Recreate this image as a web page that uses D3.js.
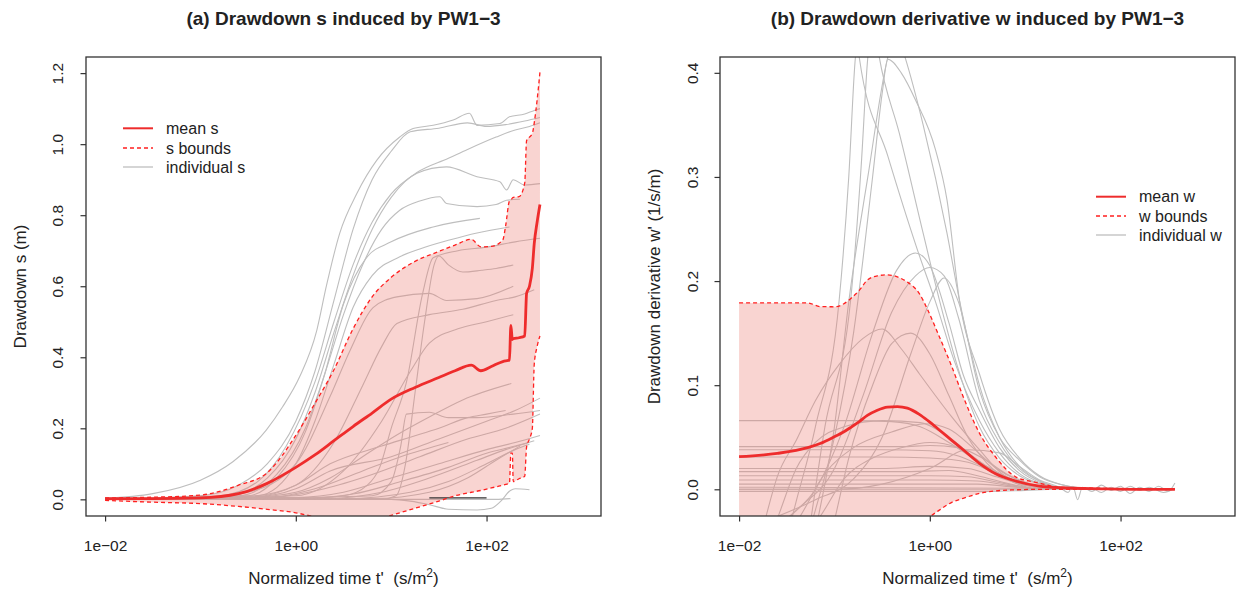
<!DOCTYPE html>
<html><head><meta charset="utf-8">
<script src="https://cdn.jsdelivr.net/npm/d3@7"></script>
<style>
html,body{margin:0;padding:0;background:#fff;}
svg{display:block;font-family:"Liberation Sans",Arial,Helvetica,sans-serif;}
</style></head><body>
<svg id="chart" width="1245" height="595"></svg>
<script>
// ---------------- DATA ----------------
// x values are log10 of normalized time t' (s/m^2)
const xTickValues = [0.01, 1, 100];
const xTickLabels = ["1e\u221202", "1e+00", "1e+02"];
const yTicksS = [0, 0.2, 0.4, 0.6, 0.8, 1.0, 1.2];
const yTicksW = [0, 0.1, 0.2, 0.3, 0.4];

// Panel (a): mean / bounds on a common grid
const gridS = [-2,-1.5,-1,-0.6,-0.3,0,0.2,0.4,0.6,0.8,1.0,1.25,1.5,1.67,1.84,1.94,2.05,2.17,2.2,2.24,2.255,2.27,2.28,2.34,2.4,2.42,2.45,2.48,2.5,2.53,2.56];
const meanS  = [0.002,0.002,0.004,0.016,0.045,0.09,0.125,0.165,0.205,0.243,0.282,0.315,0.343,0.362,0.378,0.362,0.374,0.388,0.39,0.392,0.49,0.45,0.452,0.455,0.46,0.58,0.6,0.65,0.72,0.78,0.83];
const upperS = [0.004,0.006,0.012,0.04,0.075,0.18,0.27,0.365,0.48,0.57,0.625,0.67,0.698,0.716,0.732,0.711,0.712,0.73,0.77,0.84,0.843,0.848,0.85,0.852,0.89,1.01,1.02,1.03,1.06,1.124,1.203];
const lowerS = [-0.003,-0.008,-0.012,-0.02,-0.028,-0.038,-0.05,-0.065,-0.07,-0.06,-0.045,-0.025,-0.005,0.01,0.02,0.025,0.032,0.04,0.042,0.045,0.13,0.13,0.05,0.058,0.065,0.148,0.17,0.2,0.38,0.43,0.46];

// Panel (a): individual drawdown curves [log10 t, s]
const s1 = [[-2,0.003],[-1.5,0.016],[-1.0,0.054],[-0.66,0.106],[-0.31,0.195],[-0.14,0.26],[0.04,0.345],[0.22,0.476],[0.32,0.6],[0.46,0.749],[0.64,0.861],[0.85,0.955],[1.09,1.02],[1.23,1.044],[1.44,1.053],[1.65,1.068],[1.82,1.087],[1.9,1.053],[2.14,1.058],[2.24,1.077],[2.4,1.085],[2.5,1.095],[2.56,1.1]];
const s2 = [[-2,0],[-1,0.01],[-0.6,0.04],[-0.3,0.1],[0,0.22],[0.2,0.36],[0.4,0.56],[0.6,0.76],[0.8,0.9],[1.0,0.98],[1.2,1.035],[1.5,1.045],[1.8,1.06],[2.0,1.05],[2.2,1.055],[2.4,1.065],[2.56,1.075]];
const s3 = [[-2,0],[-0.8,0.01],[-0.4,0.05],[-0.1,0.15],[0.2,0.33],[0.4,0.5],[0.6,0.66],[0.8,0.78],[1.0,0.86],[1.27,0.92],[1.6,0.96],[1.8,0.985],[2.1,1.02],[2.3,1.04],[2.45,1.05],[2.56,1.06]];
const s4 = [[-2,0],[-0.7,0.01],[-0.3,0.06],[0,0.17],[0.2,0.3],[0.4,0.47],[0.6,0.63],[0.8,0.76],[1.0,0.85],[1.27,0.918],[1.58,0.936],[1.9,0.908],[2.14,0.894],[2.21,0.871],[2.28,0.9],[2.4,0.885],[2.56,0.889]];
const s5 = [[-2,0],[-0.6,0.01],[-0.2,0.07],[0.1,0.2],[0.3,0.35],[0.5,0.52],[0.7,0.66],[0.9,0.76],[1.09,0.814],[1.3,0.84],[1.51,0.852],[1.58,0.833],[1.9,0.824],[2.1,0.83],[2.21,0.842],[2.35,0.845]];
const s6 = [[-2,0],[-0.5,0.01],[-0.2,0.06],[0.1,0.19],[0.3,0.35],[0.5,0.55],[0.74,0.68],[1.0,0.725],[1.44,0.767],[1.93,0.791]];
const s7 = [[-2,0],[-0.4,0.01],[0,0.1],[0.2,0.22],[0.4,0.38],[0.6,0.54],[0.8,0.63],[1.09,0.683],[1.3,0.705],[1.61,0.73],[1.9,0.75],[2.24,0.767]];
const s8 = [[-2,0],[0,0.002],[0.5,0.01],[0.75,0.04],[0.88,0.09],[1.0,0.2],[1.16,0.33],[1.33,0.58],[1.44,0.68],[1.7,0.7],[2.0,0.71],[2.3,0.725],[2.56,0.735]];
const s9 = [[-2,0],[0.9,0.0],[1.05,0.01],[1.15,0.1],[1.25,0.3],[1.35,0.5],[1.45,0.66],[1.5,0.685],[1.6,0.66],[1.75,0.64],[1.95,0.645],[2.1,0.65],[2.28,0.66]];
const s10 = [[-2,0],[-1,0.005],[-0.5,0.02],[0,0.1],[0.36,0.29],[0.57,0.42],[0.81,0.54],[1.06,0.57],[1.4,0.58],[1.58,0.56],[1.9,0.565],[2.28,0.6]];
const s11 = [[-2,0],[-0.5,0.005],[0,0.04],[0.4,0.16],[0.7,0.32],[0.9,0.43],[1.06,0.495],[1.4,0.52],[1.75,0.535],[2.1,0.56],[2.3,0.57],[2.5,0.59]];
const s12 = [[-2,0],[0,0.01],[0.5,0.08],[0.9,0.22],[1.2,0.36],[1.4,0.44],[1.7,0.48],[2.0,0.5],[2.28,0.52]];
const s13 = [[-2,0],[-0.5,0.005],[0,0.02],[0.36,0.06],[0.7,0.12],[1.05,0.18],[1.4,0.232],[1.75,0.28],[2.26,0.326]];
const s14 = [[-2,0],[0,0.005],[0.8,0.01],[1.0,0.05],[1.1,0.15],[1.16,0.24],[1.4,0.245],[1.6,0.23],[1.9,0.23],[2.28,0.24],[2.56,0.25]];
const s15 = [[-2,0],[-0.5,0.005],[0,0.03],[0.36,0.08],[1,0.12],[1.5,0.17],[2,0.22],[2.3,0.25],[2.56,0.285]];
const s16 = [[-2,0],[-0.3,0.005],[0.3,0.03],[0.8,0.07],[1.3,0.12],[1.8,0.17],[2.2,0.2],[2.56,0.24]];
const s17 = [[-2,0],[0,0.005],[0.5,0.02],[1,0.06],[1.5,0.1],[2,0.14],[2.3,0.16],[2.56,0.18]];
const s18 = [[-2,0],[0,0.002],[0.6,0.015],[1.1,0.05],[1.6,0.09],[2,0.13],[2.3,0.15],[2.5,0.165]];
const s19 = [[-2,0],[0.3,0.002],[0.9,0.02],[1.4,0.06],[1.9,0.11],[2.2,0.14],[2.45,0.16]];
const s20 = [[-2,0],[0.5,0.002],[1.2,0.02],[1.6,0.05],[2.0,0.1],[2.3,0.14],[2.45,0.155]];
const s21 = [[-2,0],[0.8,0.002],[1.4,0.02],[1.8,0.06],[2.1,0.11],[2.35,0.15]];
const s22 = [[-2,0],[-0.3,0.005],[0.2,0.03],[0.7,0.08],[1.1,0.12],[1.6,0.16]];
const s23 = [[-2,0],[-0.5,0.008],[0,0.04],[0.36,0.1],[0.9,0.15],[1.2,0.175],[1.5,0.2],[1.8,0.23],[2.0,0.24],[2.2,0.25]];
const s24 = [[-2,0],[1.0,0.0],[1.2,-0.005],[1.4,-0.015],[1.6,-0.028],[1.9,-0.03],[2.05,-0.025],[2.15,-0.005],[2.25,0.025],[2.3,0.03],[2.45,0.027]];
const s25 = [[-2,0.001],[1.0,0.0],[2.1,0.0],[2.25,0.002]];
const blackS = [[1.4,0.004],[2.0,0.004]];
const indivS = [s1,s2,s3,s4,s5,s6,s7,s8,s9,s10,s11,s12,s13,s14,s15,s16,s17,s18,s19,s20,s21,s22,s23,s24,s25];

// Panel (b): mean / bounds on a common grid
const gridW = [-2,-1.6,-1.28,-1.15,-0.99,-0.905,-0.82,-0.74,-0.655,-0.55,-0.445,-0.34,-0.235,-0.11,-0.02,0.1,0.23,0.35,0.52,0.69,0.9,1.15,1.36,1.8,2.2,2.57];
const meanW  = [0.0313,0.0345,0.04,0.044,0.051,0.055,0.06,0.065,0.071,0.076,0.079,0.0795,0.078,0.072,0.066,0.057,0.047,0.038,0.025,0.015,0.008,0.003,0.0015,0.0005,0.0,0.0];
const upperW = [0.179,0.179,0.179,0.1755,0.1753,0.178,0.184,0.191,0.201,0.205,0.206,0.204,0.199,0.188,0.172,0.1465,0.118,0.089,0.054,0.031,0.012,0.006,0.002,0.001,0.0,0.0];
const lowerW = [-0.2,-0.17,-0.14,-0.13,-0.115,-0.105,-0.095,-0.085,-0.077,-0.068,-0.06,-0.052,-0.045,-0.036,-0.028,-0.02,-0.0125,-0.0087,-0.0039,-0.0015,-0.0005,0,0,0,0,0];

// Panel (b): individual derivative curves [log10 t, w]
const w1 = [[-2,-0.3],[-1.3,-0.06],[-1.1,0.06],[-0.83,0.182],[-0.72,0.31],[-0.65,0.415],[-0.59,0.45],[-0.53,0.415],[-0.32,0.342],[-0.07,0.246],[0.1,0.182],[0.3,0.115],[0.52,0.06],[0.73,0.03],[0.94,0.013],[1.2,0.004],[1.5,0.0]];
const w2 = [[-2,-0.25],[-1.2,-0.04],[-1.0,0.06],[-0.85,0.18],[-0.65,0.3],[-0.44,0.415],[-0.35,0.44],[-0.26,0.415],[-0.07,0.35],[0.18,0.246],[0.31,0.182],[0.45,0.125],[0.52,0.1],[0.73,0.05],[0.94,0.022],[1.15,0.008],[1.4,0.002],[1.7,0.001],[1.8,-0.003],[1.9,0.002],[2.0,-0.002],[2.1,0.003],[2.2,-0.001],[2.3,0.002],[2.45,-0.003],[2.57,0.001]];
const w3 = [[-2,-0.35],[-1.5,-0.05],[-1.2,0.06],[-0.95,0.182],[-0.85,0.3],[-0.78,0.415],[-0.76,0.43],[-0.74,0.415],[-0.44,0.32],[-0.13,0.23],[0.06,0.18],[0.25,0.125],[0.52,0.066],[0.73,0.035],[0.94,0.015],[1.2,0.004],[1.5,0.0]];
const w4 = [[-2,-0.2],[-1.2,-0.02],[-1.0,0.05],[-0.8,0.15],[-0.6,0.3],[-0.5,0.38],[-0.44,0.413],[-0.3,0.4],[-0.15,0.374],[0.06,0.326],[0.18,0.278],[0.31,0.182],[0.52,0.111],[0.73,0.058],[0.94,0.03],[1.15,0.013],[1.4,0.004],[1.7,0.0]];
const w5 = [[-2,-0.1],[-1.5,-0.03],[-1.2,0.0],[-0.9,0.06],[-0.6,0.15],[-0.35,0.21],[-0.15,0.227],[0.0,0.215],[0.2,0.16],[0.35,0.11],[0.52,0.076],[0.73,0.04],[0.94,0.018],[1.2,0.005],[1.5,0.0]];
const w6 = [[-2,-0.06],[-1.4,-0.02],[-1.0,0.02],[-0.7,0.09],[-0.4,0.17],[-0.15,0.205],[0.0,0.213],[0.15,0.205],[0.3,0.165],[0.52,0.085],[0.73,0.045],[0.94,0.02],[1.2,0.006],[1.5,0.0]];
const w7 = [[-2,-0.04],[-1.2,-0.01],[-0.8,0.01],[-0.5,0.05],[-0.2,0.13],[0,0.18],[0.15,0.203],[0.3,0.18],[0.52,0.095],[0.73,0.05],[0.94,0.028],[1.15,0.012],[1.4,0.004],[1.7,0.0]];
const w8 = [[-2,0.0],[-1,0.0],[-0.5,0.005],[0,0.02],[0.4,0.038],[0.73,0.035],[0.94,0.022],[1.15,0.009],[1.36,0.002],[1.45,-0.003],[1.5,0.003],[1.55,-0.01],[1.6,0.002],[1.7,-0.002],[1.8,0.004],[1.9,-0.001],[2.0,0.003],[2.1,-0.004],[2.2,0.002],[2.3,-0.002],[2.4,0.003],[2.5,-0.002],[2.57,0.006]];
const w9 = [[-2,-0.15],[-1.7,-0.02],[-1.6,0.012],[-1.4,0.047],[-1.2,0.085],[-0.95,0.12],[-0.7,0.145],[-0.5,0.154],[-0.3,0.135],[-0.11,0.111],[0.226,0.07],[0.52,0.038],[0.77,0.014],[1.0,0.005],[1.3,0.001]];
const w10 = [[-2,-0.12],[-1.59,-0.026],[-1.4,0.02],[-1.2,0.045],[-0.9,0.06],[-0.5,0.066],[-0.1,0.064],[0.2,0.05],[0.5,0.028],[0.8,0.012],[1.1,0.003],[1.4,0.0]];
const w11 = [[-2,-0.1],[-1.36,-0.026],[-1.1,0.015],[-0.8,0.04],[-0.4,0.055],[-0.05,0.063],[0.2,0.058],[0.45,0.04],[0.7,0.02],[1.0,0.006],[1.3,0.0]];
const w12 = [[-2,-0.08],[-1.15,-0.026],[-0.9,0.01],[-0.6,0.03],[-0.3,0.04],[0.0,0.045],[0.3,0.04],[0.6,0.022],[0.9,0.008],[1.2,0.0]];
const w13 = [[-2,-0.3],[-0.99,-0.026],[-0.85,0.03],[-0.6,0.1],[-0.4,0.14],[-0.2,0.15],[0.0,0.13],[0.2,0.09],[0.4,0.05],[0.6,0.025],[0.85,0.008],[1.1,0.0]];
const w14 = [[-2,0.066],[-0.8,0.066],[-0.4,0.065],[-0.1,0.06],[0.2,0.045],[0.45,0.03],[0.7,0.015],[1.0,0.004],[1.3,0.0]];
const w15 = [[-2,0.041],[-0.3,0.041],[0.0,0.042],[0.3,0.04],[0.55,0.03],[0.8,0.015],[1.1,0.004],[1.4,0.0]];
const w16 = [[-2,0.038],[-0.5,0.038],[0,0.037],[0.3,0.032],[0.6,0.02],[0.9,0.008],[1.2,0.0]];
const w17 = [[-2,0.031],[-0.5,0.031],[0,0.03],[0.4,0.026],[0.7,0.015],[1.0,0.005],[1.3,0.0]];
const w18 = [[-2,0.02],[-0.5,0.02],[0,0.022],[0.4,0.02],[0.7,0.012],[1.0,0.004],[1.3,0.0]];
const w19 = [[-2,0.017],[-0.3,0.017],[0.2,0.018],[0.5,0.013],[0.8,0.006],[1.1,0.0]];
const w20 = [[-2,0.013],[0,0.013],[0.4,0.012],[0.7,0.007],[1.0,0.002],[1.2,0.0]];
const w21 = [[-2,0.009],[0,0.009],[0.5,0.008],[0.8,0.004],[1.1,0.0]];
const w22 = [[-2,0.005],[0.5,0.005],[0.9,0.002],[1.2,0.0]];
const w23 = [[-2,0.002],[1.0,0.001],[1.3,0.0]];
const w24 = [[-2,0.0],[2.57,0.0]];
const w25 = [[-2,-0.002],[0.6,-0.002],[1.0,-0.001],[1.3,0.0]];
const indivW = [w1,w2,w3,w4,w5,w6,w7,w8,w9,w10,w11,w12,w13,w14,w15,w16,w17,w18,w19,w20,w21,w22,w23,w24,w25];

// ---------------- DRAWING ----------------
const svg = d3.select("#chart");
const TOP = 57, BOTTOM = 516;
const C = {
  gray: "#bebebe", mean: "#ee2c2c", bound: "#ff1f1f",
  fill: "rgba(236,122,112,0.32)", box: "#333", text: "#222"
};

function drawPanel(cfg) {
  const x = d3.scaleLog().domain([Math.pow(10, -2.2), Math.pow(10, 3.2)]).range([cfg.x0, cfg.x1]);
  const y = d3.scaleLinear().domain(cfg.yDomain).range([BOTTOM, TOP]);
  const X = lt => x(Math.pow(10, lt));

  const clipId = "clip-" + cfg.id;
  svg.append("clipPath").attr("id", clipId).append("rect")
    .attr("x", cfg.x0).attr("y", TOP).attr("width", cfg.x1 - cfg.x0).attr("height", BOTTOM - TOP);
  const plot = svg.append("g").attr("clip-path", `url(#${clipId})`);

  const line = d3.line().x(d => X(d[0])).y(d => y(d[1])).curve(d3.curveMonotoneX);

  plot.selectAll("path.indiv").data(cfg.indiv).enter().append("path")
    .attr("class", "indiv").attr("d", line)
    .attr("fill", "none").attr("stroke", C.gray).attr("stroke-width", 1.1);

  const area = d3.area()
    .x((d, i) => X(cfg.grid[i]))
    .y0((d, i) => y(cfg.lower[i]))
    .y1((d, i) => y(cfg.upper[i]))
    .curve(d3.curveMonotoneX);
  plot.append("path").datum(cfg.grid).attr("d", area).attr("fill", C.fill).attr("stroke", "none");

  if (cfg.black) {
    plot.append("path").datum(cfg.black).attr("d", line)
      .attr("fill", "none").attr("stroke", "#333").attr("stroke-width", 1.4);
  }

  const gridLine = arr => cfg.grid.map((g, i) => [g, arr[i]]);
  [cfg.upper, cfg.lower].forEach(b => {
    plot.append("path").datum(gridLine(b)).attr("d", line)
      .attr("fill", "none").attr("stroke", C.bound).attr("stroke-width", 1.3)
      .attr("stroke-dasharray", "4,3");
  });
  plot.append("path").datum(gridLine(cfg.mean)).attr("d", line)
    .attr("fill", "none").attr("stroke", C.mean).attr("stroke-width", 2.8);

  // box
  svg.append("rect").attr("x", cfg.x0).attr("y", TOP)
    .attr("width", cfg.x1 - cfg.x0).attr("height", BOTTOM - TOP)
    .attr("fill", "none").attr("stroke", C.box).attr("stroke-width", 1.3);

  // x axis
  const xa = svg.append("g").attr("transform", `translate(0,${BOTTOM})`)
    .call(d3.axisBottom(x).tickValues(xTickValues)
      .tickFormat((d, i) => xTickLabels[i]).tickSize(5.5).tickPadding(18.5));
  xa.select(".domain").remove();
  xa.selectAll(".tick line").attr("stroke", C.box).attr("stroke-width", 1.2);
  xa.selectAll(".tick text").attr("fill", C.text)
    .style("font-size", "15.5px").style("font-family", "'Liberation Sans',Arial,sans-serif");

  // y axis
  const ya = svg.append("g").attr("transform", `translate(${cfg.x0},0)`)
    .call(d3.axisLeft(y).tickValues(cfg.yTicks).tickFormat(d3.format(".1f")).tickSize(5.5));
  ya.select(".domain").remove();
  ya.selectAll(".tick line").attr("stroke", C.box).attr("stroke-width", 1.2);
  ya.selectAll(".tick text").attr("fill", C.text)
    .attr("transform", "rotate(-90)").attr("x", 0).attr("y", -cfg.yLabGap).attr("dy", 0)
    .style("text-anchor", "middle")
    .style("font-size", "15.5px").style("font-family", "'Liberation Sans',Arial,sans-serif");

  // title
  const cx = (cfg.x0 + cfg.x1) / 2;
  svg.append("text").attr("x", cx).attr("y", 25).attr("text-anchor", "middle")
    .attr("fill", C.text).style("font-size", "19px").style("font-weight", "bold")
    .text(cfg.title);

  // x axis title
  const xt = svg.append("text").attr("x", cx).attr("y", 584).attr("text-anchor", "middle")
    .attr("fill", C.text).style("font-size", "17px").style("white-space", "pre");
  xt.append("tspan").text("Normalized time t'  (s/m");
  xt.append("tspan").attr("dy", -7).style("font-size", "12px").text("2");
  xt.append("tspan").attr("dy", 7).text(")");

  // y axis title
  svg.append("text")
    .attr("transform", `translate(${cfg.yTitleX},${(TOP + BOTTOM) / 2}) rotate(-90)`)
    .attr("text-anchor", "middle").attr("fill", C.text).style("font-size", "17px")
    .text(cfg.yTitle);

  // legend
  const lg = svg.append("g");
  cfg.legend.forEach((lab, i) => {
    const yy = cfg.legY[i];
    const l = lg.append("line").attr("x1", cfg.legX).attr("x2", cfg.legX + 30)
      .attr("y1", yy).attr("y2", yy);
    if (i === 0) l.attr("stroke", C.mean).attr("stroke-width", 2);
    if (i === 1) l.attr("stroke", C.bound).attr("stroke-width", 1.5).attr("stroke-dasharray", "4,3");
    if (i === 2) l.attr("stroke", C.gray).attr("stroke-width", 1.3);
    lg.append("text").attr("x", cfg.legX + 43).attr("y", yy + 5.5)
      .attr("fill", C.text).style("font-size", "16px").text(lab);
  });
}

drawPanel({
  id: "a", x0: 86, x1: 601, yDomain: [-0.0469, 1.2454], yTicks: yTicksS, yLabGap: 23,
  grid: gridS, mean: meanS, upper: upperS, lower: lowerS, indiv: indivS, black: blackS,
  title: "(a) Drawdown s induced by PW1\u22123",
  yTitle: "Drawdown s (m)", yTitleX: 26,
  legend: ["mean s", "s bounds", "individual s"], legX: 123, legY: [128.3, 148, 167]
});

drawPanel({
  id: "b", x0: 720, x1: 1235, yDomain: [-0.02564, 0.4152], yTicks: yTicksW, yLabGap: 22.5,
  grid: gridW, mean: meanW, upper: upperW, lower: lowerW, indiv: indivW, black: null,
  title: "(b) Drawdown derivative w induced by PW1\u22123",
  yTitle: "Drawdown derivative w' (1/s/m)", yTitleX: 660,
  legend: ["mean w", "w bounds", "individual w"], legX: 1096, legY: [196.7, 216, 235]
});
</script></body></html>
